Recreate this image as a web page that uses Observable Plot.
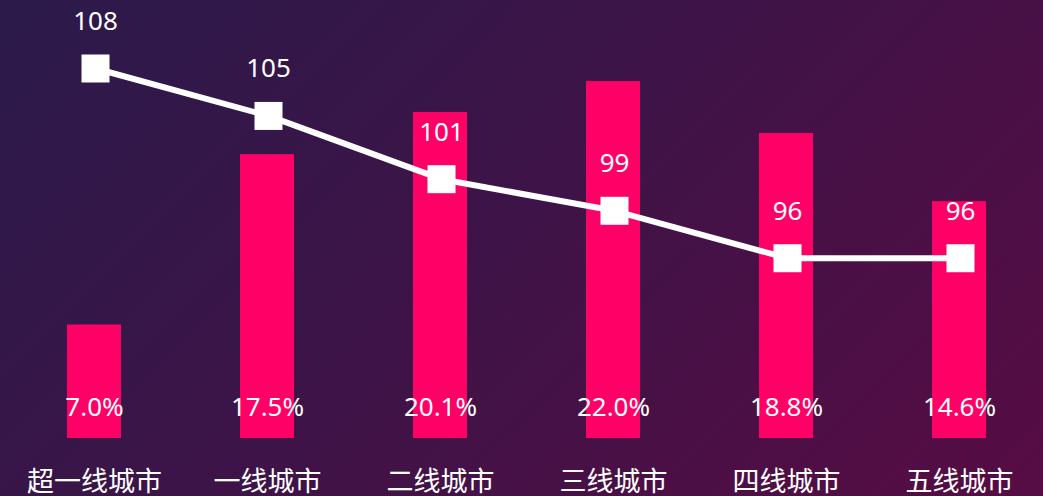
<!DOCTYPE html>
<html>
<head>
<meta charset="utf-8">
<script src="https://cdn.jsdelivr.net/npm/d3@7"></script>
<script src="https://cdn.jsdelivr.net/npm/@observablehq/plot@0.6"></script>
<style>
  html, body { margin: 0; padding: 0; }
  body { width: 1043px; height: 496px; overflow: hidden; }
  #chart {
    position: relative;
    width: 1043px;
    height: 496px;
    background: linear-gradient(135deg, #2b1a4b 0%, #3f1347 50%, #570c44 100%);
    font-family: "Noto Sans", "Noto Sans CJK SC", sans-serif;
  }
  #chart svg { position: absolute; left: 0; top: 0; background: transparent; }
</style>
</head>
<body>
<div id="chart"></div>
<script>
// City tiers
const cities = ["超一线城市", "一线城市", "二线城市", "三线城市", "四线城市", "五线城市"];
// Share of each tier (%), drawn as bars
const shares = [7.0, 17.5, 20.1, 22.0, 18.8, 14.6];
// Index value of each tier, drawn as the line
const indexValues = [108, 105, 101, 99, 96, 96];

const rows = cities.map((city, i) => ({city, share: shares[i], index: indexValues[i]}));

const W = 1043, H = 496;
// Narrow bars centred in equal-width bands
const barX = {domain: cities, range: [7, 1047], paddingInner: 0.685, paddingOuter: 0.3425};
const bandX = {domain: cities, range: [7, 1047]};
const font = '"Noto Sans", "Noto Sans CJK SC", sans-serif';

// Bars with their share labels and the category axis
const bars = Plot.plot({
  width: W,
  height: H,
  marginTop: 0,
  marginBottom: 58,
  marginLeft: 0,
  marginRight: 0,
  style: {background: "transparent", fontFamily: font, overflow: "visible"},
  x: {...barX, axis: null},
  y: {domain: [0, 27], axis: null},
  marks: [
    Plot.barY(rows, {x: "city", y: "share", fill: "#ff0066"}),
    Plot.text(rows, {
      x: "city", y: 0, text: d => d.share.toFixed(1) + "%",
      dy: -31, fill: "white", fontSize: 26
    }),
    Plot.ruleY([0], {x1: 7, x2: 1043, stroke: "#dcdcdc", strokeWidth: 2}),
    Plot.axisX({
      anchor: "bottom", tickSize: 0, tickPadding: 33, fontSize: 27,
      color: "white", label: null
    })
  ]
});

// Index line with square markers and value labels
const line = Plot.plot({
  width: W,
  height: H,
  marginTop: 0,
  marginBottom: 58,
  marginLeft: 0,
  marginRight: 0,
  style: {background: "transparent", fontFamily: font, overflow: "visible"},
  x: {...bandX, axis: null},
  y: {domain: [84.6, 112.3], axis: null},
  marks: [
    Plot.line(rows, {x: "city", y: "index", stroke: "white", strokeWidth: 6}),
    Plot.dot(rows, {x: "city", y: "index", symbol: "square", r: 15.8, fill: "white", stroke: "none"}),
    Plot.text(rows, {
      x: "city", y: "index", text: d => String(d.index),
      dy: -47, fill: "white", fontSize: 26
    })
  ]
});

const host = document.getElementById("chart");
host.appendChild(bars);
host.appendChild(line);
</script>
</body>
</html>
